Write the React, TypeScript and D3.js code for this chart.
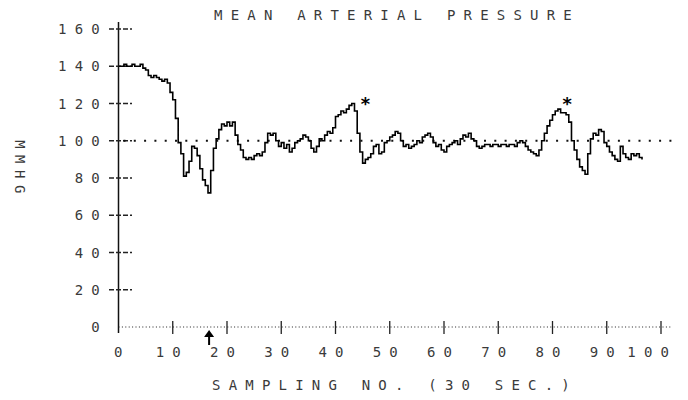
import React, { useEffect, useRef } from 'react';
import * as d3 from 'd3';

// samples every half sampling number, starting at 0
const sampleStep = 0.5;
const pressure = [
  140, 140, 141, 140, 140, 141, 140, 140, 141, 139,
  138, 135, 134, 135, 134, 133, 132, 133, 131, 126,
  122, 112, 99, 93, 81, 83, 89, 97, 96, 92,
  85, 79, 76, 72, 84, 96, 101, 106, 109, 108,
  110, 108, 110, 103, 98, 95, 91, 90, 91, 90,
  92, 93, 92, 94, 99, 104, 103, 104, 100, 97,
  99, 96, 98, 94, 96, 99, 100, 101, 103, 102,
  100, 96, 94, 97, 101, 100, 103, 105, 104, 107,
  113, 114, 116, 115, 117, 119, 120, 116, 104, 94,
  88, 90, 91, 93, 97, 98, 93, 94, 99, 100,
  102, 103, 105, 104, 100, 97, 98, 96, 97, 98,
  100, 99, 102, 103, 104, 102, 99, 97, 98, 95,
  94, 97, 98, 99, 100, 98, 101, 103, 102, 104,
  101, 100, 97, 96, 97, 98, 98, 97, 98, 98,
  97, 98, 98, 97, 98, 98, 97, 99, 100, 99,
  97, 95, 94, 93, 92, 95, 100, 104, 108, 111,
  114, 116, 117, 115, 115, 114, 110, 100, 95, 90,
  86, 84, 82, 93, 101, 104, 103, 106, 105, 99,
  97, 94, 92, 90, 89, 97, 93, 91, 90, 93,
  92, 93, 91, 90,
];

const xTicks = [0, 10, 20, 30, 40, 50, 60, 70, 80, 90, 100];
const yTicks = [0, 20, 40, 60, 80, 100, 120, 140, 160];
const referenceLevel = 100;
const starSamples = [45.5, 82.7];
const starValues = [120, 120];
const arrowSample = 16.7;

const title = 'MEAN ARTERIAL PRESSURE';
const xTitle = 'SAMPLING NO. (30 SEC.)';
const yTitle = 'MMHG';

const W = 688;
const H = 400;
const FONT = '"DejaVu Sans Mono", monospace';
const SPACING = 8.2;

export default function App() {
  const ref = useRef<SVGSVGElement>(null);

  useEffect(() => {
    const svg = d3.select(ref.current);
    svg.selectAll('*').remove();

    const x = d3.scaleLinear().domain([0, 100]).range([118.5, 661]);
    const y = d3.scaleLinear().domain([0, 160]).range([327, 29]);

    const txt = (sel: any) =>
      sel
        .attr('font-family', FONT)
        .attr('font-size', 14)
        .attr('letter-spacing', SPACING)
        .attr('fill', '#3a3a3a');

    // title + axis titles
    svg.append('text').call(txt)
      .attr('x', 397).attr('y', 15)
      .attr('text-anchor', 'middle').attr('dominant-baseline', 'central')
      .text(title);

    svg.append('text').call(txt)
      .attr('x', 395).attr('y', 385)
      .attr('text-anchor', 'middle').attr('dominant-baseline', 'central')
      .text(xTitle);

    svg.append('text').call(txt)
      .attr('letter-spacing', 6.5)
      .attr('transform', 'translate(20,170) rotate(90)')
      .attr('text-anchor', 'middle').attr('dominant-baseline', 'central')
      .text(yTitle);

    // y axis
    svg.append('line')
      .attr('x1', x(0)).attr('x2', x(0))
      .attr('y1', 22).attr('y2', 333)
      .attr('stroke', '#111').attr('stroke-width', 1.5);

    const yt = svg.append('g');
    yt.selectAll('line').data(yTicks.filter(d => d > 0)).enter().append('line')
      .attr('x1', 109).attr('x2', 132)
      .attr('y1', d => y(d)).attr('y2', d => y(d))
      .attr('stroke', '#222').attr('stroke-width', 1.3)
      .attr('stroke-dasharray', '5 2');
    yt.selectAll('text').data(yTicks).enter().append('text').call(txt)
      .attr('x', 108).attr('y', d => y(d))
      .attr('text-anchor', 'end').attr('dominant-baseline', 'central')
      .text(d => String(d));

    // x axis (dotted) with crossing ticks
    svg.append('line')
      .attr('x1', x(0)).attr('x2', x(100) + 10)
      .attr('y1', y(0)).attr('y2', y(0))
      .attr('stroke', '#222').attr('stroke-width', 1.2)
      .attr('stroke-dasharray', '1 2.4');

    const xt = svg.append('g');
    xt.selectAll('line').data(xTicks.filter(d => d > 0)).enter().append('line')
      .attr('x1', d => x(d)).attr('x2', d => x(d))
      .attr('y1', y(0) - 6).attr('y2', y(0) + 7)
      .attr('stroke', '#222').attr('stroke-width', 1.3);
    // labels end just right of their tick, as on the plotter
    xt.selectAll('text').data(xTicks).enter().append('text').call(txt)
      .attr('x', d => x(d) + (d === 0 ? 4 : 8) + SPACING).attr('y', 352)
      .attr('text-anchor', 'end').attr('dominant-baseline', 'central')
      .text(d => String(d));

    // reference level
    svg.append('line')
      .attr('x1', x(0) + 5).attr('x2', x(100) + 12)
      .attr('y1', y(referenceLevel)).attr('y2', y(referenceLevel))
      .attr('stroke', '#111').attr('stroke-width', 2)
      .attr('stroke-dasharray', '2 8.3');

    // pressure trace
    const line = d3.line<number>()
      .x((_, i) => x(i * sampleStep))
      .y(d => y(d))
      .curve(d3.curveStepAfter);
    svg.append('path')
      .datum(pressure)
      .attr('d', line)
      .attr('fill', 'none')
      .attr('stroke', '#000')
      .attr('stroke-width', 1.6);

    // asterisks
    svg.append('g').selectAll('text').data(starSamples).enter().append('text')
      .attr('x', d => x(d)).attr('y', (_, i) => y(starValues[i]) + 6)
      .attr('text-anchor', 'middle')
      .attr('font-family', FONT).attr('font-size', 18).attr('font-weight', 'bold')
      .attr('fill', '#000')
      .text('*');

    // arrow under the axis
    const ax = x(arrowSample);
    const ay = y(0) + 3;
    svg.append('line')
      .attr('x1', ax).attr('x2', ax)
      .attr('y1', ay + 3).attr('y2', ay + 15)
      .attr('stroke', '#000').attr('stroke-width', 2);
    svg.append('path')
      .attr('d', `M${ax},${ay} L${ax - 5},${ay + 7} L${ax + 5},${ay + 7} Z`)
      .attr('fill', '#000');
  }, []);

  return (
    <svg
      ref={ref}
      width={W}
      height={H}
      style={{ position: 'absolute', left: 0, top: 0, background: '#fff' }}
    />
  );
}
